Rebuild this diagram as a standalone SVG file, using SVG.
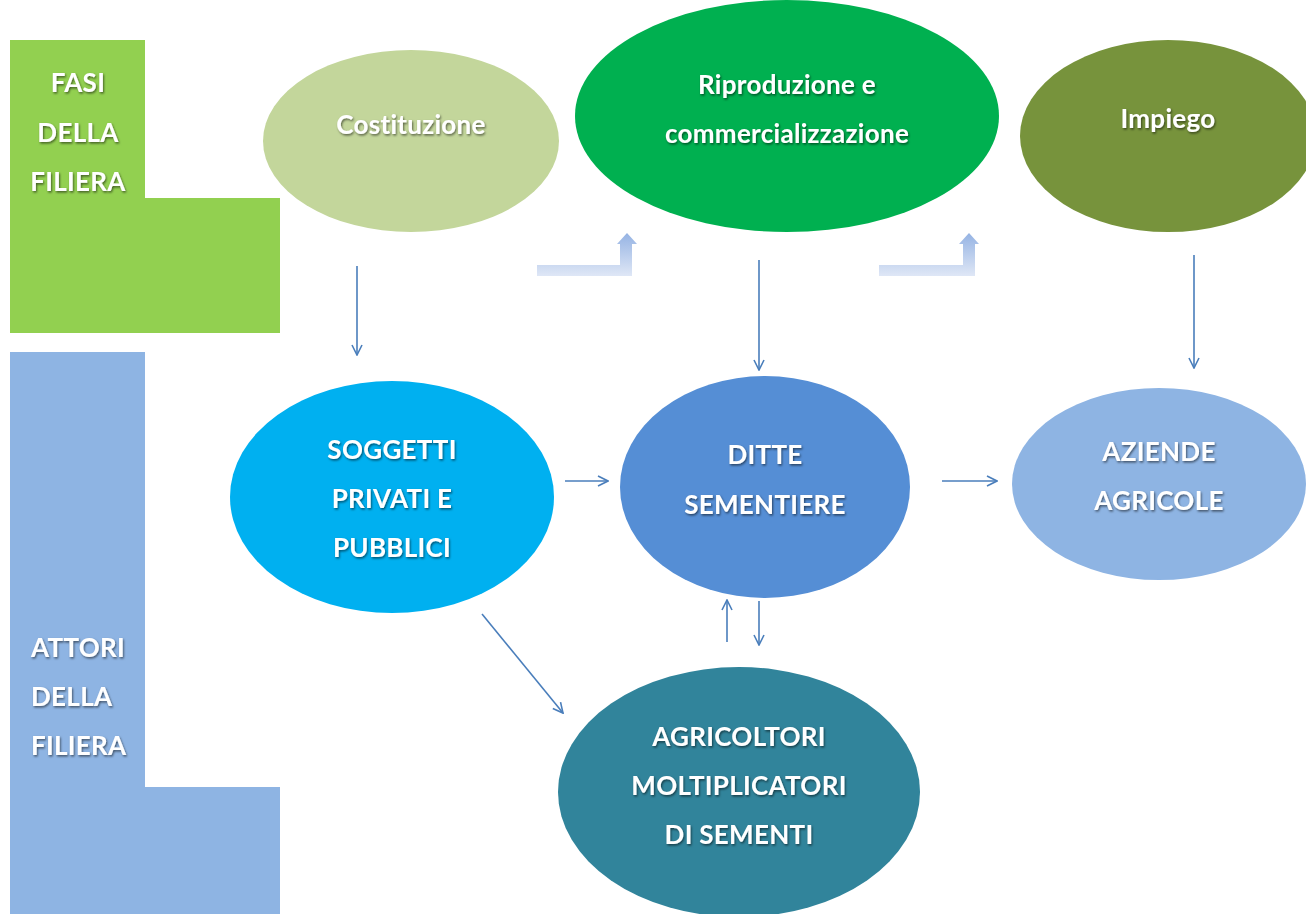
<svg xmlns="http://www.w3.org/2000/svg" width="1306" height="914" viewBox="0 0 1306 914">
<style>
.t{font-family:Lato,"Open Sans","Liberation Sans",sans-serif;font-weight:bold;font-size:26px;letter-spacing:0.3px;fill:#fff;text-anchor:middle;filter:url(#sh)}
.tl{text-anchor:start}
.c{stroke:#4a7ebb;stroke-width:1.6;fill:none;marker-end:url(#ah)}
</style>
<defs>
<filter id="sh" x="-10%" y="-30%" width="120%" height="160%">
<feDropShadow dx="1" dy="1.5" stdDeviation="1.2" flood-color="#000" flood-opacity="0.55"/>
</filter>
<marker id="ah" viewBox="0 0 12 12" refX="11" refY="6" markerWidth="12" markerHeight="12" markerUnits="userSpaceOnUse" orient="auto">
<path d="M1,1 L11,6 L1,11" fill="none" stroke="#4a7ebb" stroke-width="1.6"/>
</marker>
<linearGradient id="bg" x1="0" y1="0" x2="0" y2="1">
<stop offset="0" stop-color="#95b3e3"/>
<stop offset="1" stop-color="#dfe7f6"/>
</linearGradient>
</defs>
<g id="fasi">
<polygon points="10,40 145,40 145,198 280,198 280,333 10,333" fill="#92d050"/>
<text class="t" x="78" y="92">FASI</text>
<text class="t" x="78" y="142">DELLA</text>
<text class="t" x="78" y="191">FILIERA</text>
</g>
<g id="attori">
<polygon points="10,352 145,352 145,787 280,787 280,914 10,914" fill="#8eb4e3"/>
<text class="t tl" x="31" y="657">ATTORI</text>
<text class="t tl" x="31" y="706">DELLA</text>
<text class="t tl" x="31" y="755">FILIERA</text>
</g>
<g id="costituzione">
<ellipse cx="411" cy="141" rx="148" ry="91" fill="#c3d69b"/>
<text class="t" x="411" y="134">Costituzione</text>
</g>
<g id="riproduzione">
<ellipse cx="787" cy="116" rx="212" ry="116" fill="#00b050"/>
<text class="t" x="787" y="94">Riproduzione e</text>
<text class="t" x="787" y="143">commercializzazione</text>
</g>
<g id="impiego">
<ellipse cx="1168" cy="136" rx="148" ry="96" fill="#77933c"/>
<text class="t" x="1168" y="128">Impiego</text>
</g>
<g id="soggetti">
<ellipse cx="392" cy="497" rx="162" ry="116" fill="#00b0f0"/>
<text class="t" x="392" y="459">SOGGETTI</text>
<text class="t" x="392" y="508">PRIVATI E</text>
<text class="t" x="392" y="557">PUBBLICI</text>
</g>
<g id="ditte">
<ellipse cx="765" cy="487" rx="145" ry="111" fill="#558ed5"/>
<text class="t" x="765" y="464">DITTE</text>
<text class="t" x="765" y="514">SEMENTIERE</text>
</g>
<g id="aziende">
<ellipse cx="1159" cy="484" rx="147" ry="96" fill="#8eb4e3"/>
<text class="t" x="1159" y="461">AZIENDE</text>
<text class="t" x="1159" y="510">AGRICOLE</text>
</g>
<g id="agricoltori">
<ellipse cx="739" cy="792" rx="181" ry="125" fill="#31849b"/>
<text class="t" x="739" y="746">AGRICOLTORI</text>
<text class="t" x="739" y="795">MOLTIPLICATORI</text>
<text class="t" x="739" y="844">DI SEMENTI</text>
</g>
<g id="connectors">
<line class="c" x1="357" y1="266" x2="357" y2="355"/>
<line class="c" x1="759" y1="260" x2="759" y2="370"/>
<line class="c" x1="1194" y1="255" x2="1194" y2="368"/>
<line class="c" x1="565" y1="481" x2="608" y2="481"/>
<line class="c" x1="942" y1="481" x2="997" y2="481"/>
<line class="c" x1="482" y1="614" x2="563" y2="713"/>
<line class="c" x1="727" y1="642" x2="727" y2="600"/>
<line class="c" x1="759" y1="601" x2="759" y2="645"/>
<polygon points="537,265 620,265 620,244 617,244 627,233 637,244 632,244 632,276 537,276" fill="url(#bg)"/>
<polygon points="879,265 963,265 963,244 959,244 969,233 979,244 975,244 975,276 879,276" fill="url(#bg)"/>
</g>
</svg>
